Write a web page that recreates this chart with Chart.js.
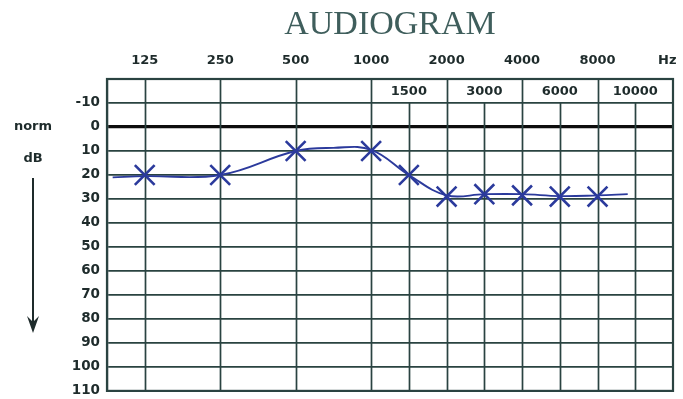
<!DOCTYPE html>
<html>
<head>
<meta charset="utf-8">
<script src="https://cdn.jsdelivr.net/npm/chart.js@4/dist/chart.umd.min.js"></script>
<style>
  html, body { margin: 0; padding: 0; background: #fff; overflow: hidden; }
  #wrap { width: 683px; height: 399px; position: relative; }
</style>
</head>
<body>
<div id="wrap"><canvas id="audio"></canvas></div>
<script>
// frequency axis: evenly spaced positions (octaves 2 apart, half-octaves between)
const topLabels = ["125", "250", "500", "1000", "2000", "4000", "8000", "Hz"];
const topPos = [0, 2, 4, 6, 8, 10, 12, 13.85];
const midLabels = ["1500", "3000", "6000", "10000"];
const midPos = [7, 9, 11, 13];
const octavePos = [0, 2, 4, 6, 8, 10, 12];

// measured thresholds (dB)
const markPos = [0, 2, 4, 6, 7, 8, 9, 10, 11, 12];
const markDb = [20, 20, 10, 10, 20, 29, 28, 28.5, 29, 29];

// hand drawn curve through the marks
const curvePos = [-0.85, 0, 2, 4, 5, 6, 7, 8, 9, 10, 11, 12, 12.8];
const curveDb = [21, 20.5, 20, 10, 8.7, 9.5, 20, 28.5, 28, 28, 28.8, 28.5, 28];

const dbTicks = [-20, -10, 0, 10, 20, 30, 40, 50, 60, 70, 80, 90, 100, 110];

const gridCol = "#2a4341";
const inkCol = "#2b3a9c";
const clear = "rgba(0,0,0,0)";

const audioPlugin = {
    id: "audioPlugin",
    beforeDatasetsDraw(chart) {
        const ctx = chart.ctx;
        const x = chart.scales.x, y = chart.scales.y;
        const a = chart.chartArea;
        ctx.save();
        ctx.strokeStyle = gridCol;
        ctx.lineWidth = 1.7;
        octavePos.forEach(p => {
            const px = Math.round(x.getPixelForValue(p)) + 0.5;
            ctx.beginPath(); ctx.moveTo(px, a.top); ctx.lineTo(px, a.bottom); ctx.stroke();
        });
        midPos.forEach(p => {
            const px = Math.round(x.getPixelForValue(p)) + 0.5;
            ctx.beginPath(); ctx.moveTo(px, y.getPixelForValue(-10)); ctx.lineTo(px, a.bottom); ctx.stroke();
        });
        ctx.lineWidth = 2.2;
        ctx.strokeRect(a.left, a.top, a.right - a.left, a.bottom - a.top);

        // half-octave labels in the top row
        ctx.fillStyle = "#1e2b2b";
        ctx.font = "bold 13px 'DejaVu Sans'";
        ctx.textAlign = "center";
        ctx.textBaseline = "middle";
        const rowY = y.getPixelForValue(-15);
        midLabels.forEach((t, i) => ctx.fillText(t, x.getPixelForValue(midPos[i]), rowY + 1));

        // left side legend
        ctx.fillText("norm", 33, y.getPixelForValue(0));
        ctx.fillText("dB", 33, y.getPixelForValue(13));
        ctx.strokeStyle = "#1e2b2b";
        ctx.lineWidth = 2;
        ctx.beginPath(); ctx.moveTo(33, 178); ctx.lineTo(33, 325); ctx.stroke();
        ctx.beginPath();
        ctx.moveTo(27, 316); ctx.lineTo(33, 333); ctx.lineTo(39, 316); ctx.lineTo(33, 322);
        ctx.closePath(); ctx.fillStyle = "#1e2b2b"; ctx.fill();
        ctx.restore();
    }
};

new Chart(document.getElementById("audio"), {
    type: "scatter",
    data: {
        datasets: [{
            data: curvePos.map((p, i) => ({ x: p, y: curveDb[i] })),
            showLine: true,
            tension: 0.4,
            borderColor: inkCol,
            borderWidth: 1.9,
            pointRadius: 0
        }, {
            data: markPos.map((p, i) => ({ x: p, y: markDb[i] })),
            showLine: false,
            pointStyle: "crossRot",
            pointRadius: 14,
            pointBorderWidth: 2.6,
            pointBorderColor: inkCol,
            pointBackgroundColor: inkCol
        }]
    },
    options: {
        responsive: true,
        maintainAspectRatio: false,
        animation: false,
        events: [],
        layout: { autoPadding: false, padding: { left: 0, right: 10, top: 0, bottom: 8 } },
        plugins: {
            legend: { display: false },
            tooltip: { enabled: false },
            title: {
                display: true,
                text: "AUDIOGRAM",
                fullSize: false,
                color: "#3f5e5c",
                font: { family: "'Liberation Serif', serif", size: 34, weight: "normal", lineHeight: 1.2 },
                padding: { top: 5, bottom: 0 }
            }
        },
        scales: {
            x: {
                type: "linear",
                min: -1, max: 14,
                display: false
            },
            x2: {
                type: "linear",
                position: "top",
                min: -1, max: 14,
                afterBuildTicks: s => { s.ticks = topPos.map(v => ({ value: v })); },
                afterFit: s => { s.height = 33.2; },
                grid: { drawOnChartArea: false, drawTicks: true, tickLength: 11, color: clear, tickColor: clear },
                border: { display: false },
                ticks: {
                    autoSkip: false,
                    maxRotation: 0,
                    padding: 0,
                    color: "#1e2b2b",
                    font: { family: "'DejaVu Sans'", size: 13, weight: "bold" },
                    callback: (v) => { const i = topPos.indexOf(v); return i >= 0 ? topLabels[i] : ""; }
                }
            },
            y: {
                type: "linear",
                reverse: true,
                min: -20, max: 110,
                afterBuildTicks: s => { s.ticks = dbTicks.map(v => ({ value: v })); },
                afterFit: s => { s.width = 107; },
                grid: {
                    drawTicks: true,
                    tickLength: 7,
                    tickColor: clear,
                    color: c => c.tick && c.tick.value === 0 ? "#0d0d0d" : gridCol,
                    lineWidth: c => c.tick && c.tick.value === 0 ? 3.2 : 1.7
                },
                border: { display: true, color: gridCol, width: 2.2 },
                ticks: {
                    padding: 0,
                    color: "#1e2b2b",
                    font: { family: "'DejaVu Sans'", size: 13.5, weight: "bold" },
                    callback: v => v === -20 ? "" : String(v)
                }
            }
        }
    },
    plugins: [audioPlugin]
});
</script>
</body>
</html>
